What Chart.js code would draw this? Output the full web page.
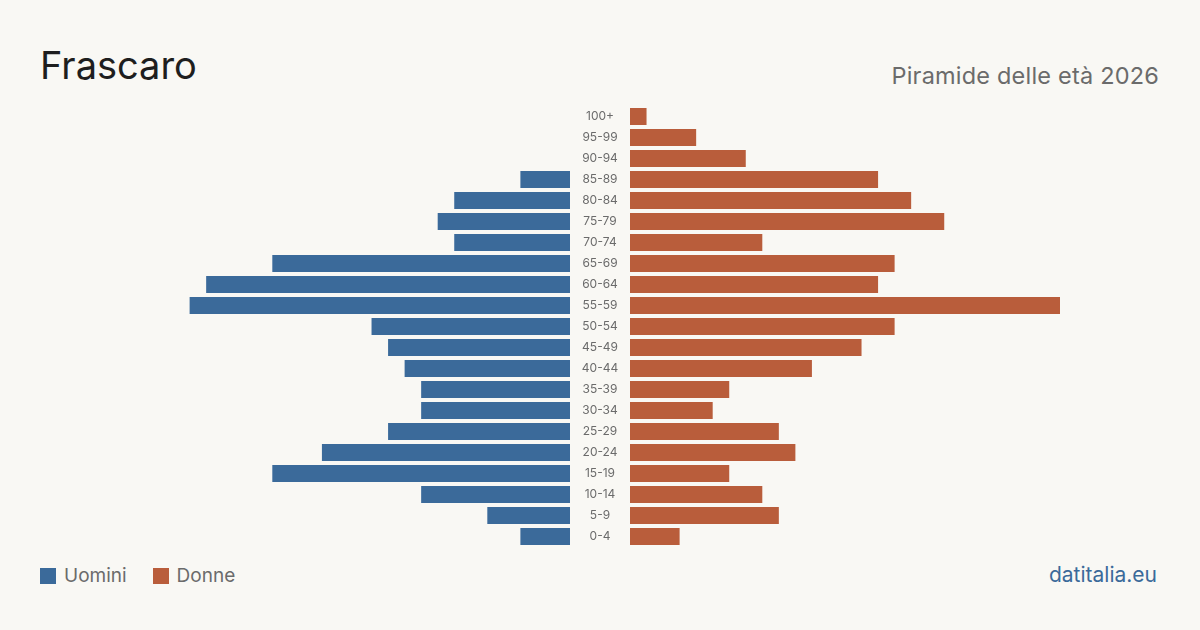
<!DOCTYPE html>
<html>
<head>
<meta charset="utf-8">
<script src="https://cdn.jsdelivr.net/npm/chart.js@4"></script>
<style>
  body { margin: 0; background: #f9f8f4; font-family: Inter, sans-serif; }
  #wrap { position: relative; width: 1200px; height: 630px; overflow: hidden; }
  #titolo { position: absolute; left: 40px; top: 42px; font-size: 38px; color: #1e1e1e; }
  #sotto { position: absolute; right: 41px; top: 61px; font-size: 23.5px; color: #6b6b6b; letter-spacing: 0.2px; }
  #leg { position: absolute; left: 40px; top: 564px; font-size: 19px; color: #6b6b6b; }
  #leg span.q { display: inline-block; width: 16px; height: 16px; vertical-align: -2px; margin-right: 8px; }
  #sito { position: absolute; right: 43px; top: 562px; font-size: 21px; color: #3b6a9a; }
  #cvU { position: absolute; left: 140px; top: 106px; }
  #cvD { position: absolute; left: 570px; top: 106px; }
</style>
</head>
<body>
<div id="wrap">
  <div id="titolo">Frascaro</div>
  <div id="sotto">Piramide delle età 2026</div>
  <div id="leg"><span class="q" style="background:#3b6a9a"></span>Uomini<span class="q" style="background:#b95d3b;margin-left:26px"></span>Donne</div>
  <div id="sito">datitalia.eu</div>
  <div id="cvU" style="width:430px;height:441px"><canvas id="graficaU"></canvas></div>
  <div id="cvD" style="width:490px;height:441px"><canvas id="graficaD"></canvas></div>
</div>
<script>
//DATI
const classi = ["100+","95-99","90-94","85-89","80-84","75-79","70-74","65-69","60-64","55-59","50-54","45-49","40-44","35-39","30-34","25-29","20-24","15-19","10-14","5-9","0-4"];
const uomini = [0,0,0,3,7,8,7,18,22,23,12,11,10,9,9,11,15,18,9,5,3];
const donne  = [1,4,7,15,17,19,8,16,15,26,16,14,11,6,5,9,10,6,8,9,3];
const scalaMax = 26;

const BLU = "#3b6a9a";
const ARANCIO = "#b95d3b";

// etichette delle classi nella fascia a sinistra del grafico donne
const etichette = {
  id: "etichette",
  afterDraw(chart) {
    const ctx = chart.ctx;
    const y = chart.scales.y;
    const cx = chart.chartArea.left / 2;
    ctx.save();
    ctx.fillStyle = "#6b6b6b";
    ctx.font = "12px Inter";
    ctx.textAlign = "center";
    ctx.textBaseline = "middle";
    classi.forEach(function (c, i) {
      ctx.fillText(c, cx, y.getPixelForValue(i));
    });
    ctx.restore();
  }
};

// sinistra: uomini, asse invertito
new Chart(document.getElementById("graficaU").getContext("2d"), {
  type: "bar",
  data: {
    labels: classi,
    datasets: [{ label: "Uomini", data: uomini, backgroundColor: BLU, barPercentage: 0.81, categoryPercentage: 1 }]
  },
  options: {
    indexAxis: "y",
    responsive: true,
    maintainAspectRatio: false,
    animation: false,
    layout: { padding: 0 },
    plugins: { legend: { display: false }, tooltip: { enabled: false } },
    scales: {
      x: { display: false, reverse: true, min: 0, max: scalaMax },
      y: { display: false }
    }
  }
});

// destra: donne
new Chart(document.getElementById("graficaD").getContext("2d"), {
  type: "bar",
  data: {
    labels: classi,
    datasets: [{ label: "Donne", data: donne, backgroundColor: ARANCIO, barPercentage: 0.81, categoryPercentage: 1 }]
  },
  options: {
    indexAxis: "y",
    responsive: true,
    maintainAspectRatio: false,
    animation: false,
    layout: { padding: { left: 60 } },
    plugins: { legend: { display: false }, tooltip: { enabled: false } },
    scales: {
      x: { display: false, min: 0, max: scalaMax },
      y: { display: false }
    }
  },
  plugins: [etichette]
});
</script>
</body>
</html>
